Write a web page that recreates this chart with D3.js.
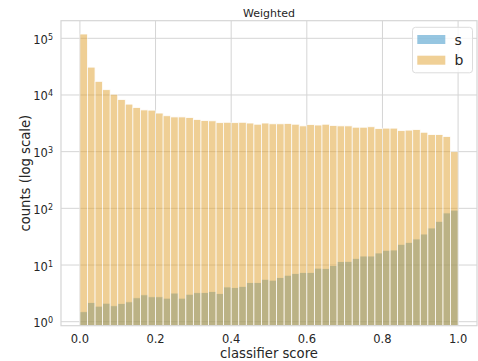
<!DOCTYPE html>
<html>
<head>
<meta charset="utf-8">
<script src="https://cdn.jsdelivr.net/npm/d3@7"></script>
<style>
  body { margin: 0; background: #fff; }
  svg { display: block; font-family: "DejaVu Sans", sans-serif; }
</style>
</head>
<body>
<svg id="chart" width="478" height="361"></svg>
<script>
// bin edges: 50 bins of width 0.02 over [0, 1]
const binWidth = 0.02;
const binStarts = d3.range(50).map(i => +(i * binWidth).toFixed(2));

// signal counts (weighted)
const sCounts = [1.5, 2.18, 1.88, 2.12, 1.91, 2.1, 2.24, 2.64, 2.98, 2.75,
  2.75, 2.6, 3.2, 2.6, 3.05, 3.25, 3.27, 3.4, 3.14, 4.1,
  4.0, 4.2, 4.9, 4.9, 5.6, 5.4, 6.0, 6.6, 7.1, 7.4,
  7.4, 8.8, 8.7, 9.8, 11.5, 11.6, 13.1, 14.4, 14.4, 16.3,
  18.2, 18.4, 23.2, 25.1, 28.8, 35.2, 45, 59, 83, 93];

// background counts (weighted)
const bCounts = [119000, 31000, 17400, 12400, 10300, 8300, 6900, 6000, 5450, 5400,
  4800, 4300, 4100, 4100, 4000, 3700, 3550, 3500, 3250, 3300,
  3250, 3300, 3200, 3050, 3200, 3100, 3100, 3150, 3050, 2850,
  3000, 2950, 3050, 2900, 2850, 2850, 2700, 2700, 2750, 2550,
  2600, 2600, 2350, 2400, 2450, 2200, 2000, 2000, 1850, 1000];

const seriesNames = ["s", "b"];
const seriesColors = ["rgb(45,141,195)", "rgb(225,161,45)"];
const xTicks = [0, 0.2, 0.4, 0.6, 0.8, 1.0];
const yTickExps = [0, 1, 2, 3, 4, 5];

const svg = d3.select("#chart");
const plot = { left: 61, right: 477, top: 20.7, bottom: 325.7 };
const textColor = "#262626";
const gridColor = "#d5d5d5";

const x = d3.scaleLinear().domain([-0.05, 1.05]).range([plot.left, plot.right]);
const y = d3.scaleLog().domain([Math.pow(10, -0.0706), Math.pow(10, 5.3105)]).range([plot.bottom, plot.top]);

// grid
const grid = svg.append("g").attr("class", "grid");
grid.selectAll("line.vgrid").data(xTicks).enter().append("line")
    .attr("class", "vgrid")
    .attr("x1", d => x(d)).attr("x2", d => x(d))
    .attr("y1", plot.top).attr("y2", plot.bottom)
    .attr("stroke", gridColor).attr("stroke-width", 1);
grid.selectAll("line.hgrid").data(yTickExps).enter().append("line")
    .attr("class", "hgrid")
    .attr("x1", plot.left).attr("x2", plot.right)
    .attr("y1", d => y(Math.pow(10, d))).attr("y2", d => y(Math.pow(10, d)))
    .attr("stroke", gridColor).attr("stroke-width", 1);

// bars: s drawn first, b over it
const barsG = svg.append("g").attr("class", "bars");
[sCounts, bCounts].forEach((counts, si) => {
    barsG.append("g")
        .attr("class", "series-" + seriesNames[si])
        .selectAll("rect").data(counts).enter().append("rect")
            .attr("x", (d, i) => x(binStarts[i]))
            .attr("width", (d, i) => x(binStarts[i] + binWidth) - x(binStarts[i]))
            .attr("y", d => y(d))
            .attr("height", d => plot.bottom - y(d))
            .attr("fill", seriesColors[si])
            .attr("stroke", "#fff")
            .attr("stroke-width", 0.8)
            .attr("opacity", 0.5);
});

// frame
svg.append("rect")
    .attr("x", plot.left).attr("y", plot.top)
    .attr("width", plot.right - plot.left).attr("height", plot.bottom - plot.top)
    .attr("fill", "none").attr("stroke", gridColor).attr("stroke-width", 1.2);

// x tick labels
svg.append("g").selectAll("text").data(xTicks).enter().append("text")
    .attr("x", d => x(d)).attr("y", 342.5)
    .attr("text-anchor", "middle")
    .attr("font-size", 11.5).attr("fill", textColor)
    .text(d => d3.format(".1f")(d));

// y tick labels, 10^n
const yLab = svg.append("g").selectAll("text").data(yTickExps).enter().append("text")
    .attr("x", 53).attr("y", d => y(Math.pow(10, d)) + 5.5)
    .attr("text-anchor", "end")
    .attr("font-size", 11.5).attr("fill", textColor);
yLab.append("tspan").text("10");
yLab.append("tspan").attr("dy", -4).attr("font-size", 8).text(d => d);

// axis labels and title
svg.append("text")
    .attr("x", (plot.left + plot.right) / 2).attr("y", 357.5)
    .attr("text-anchor", "middle").attr("font-size", 13.2).attr("fill", textColor)
    .text("classifier score");
svg.append("text")
    .attr("transform", "translate(30," + ((plot.top + plot.bottom) / 2) + ") rotate(-90)")
    .attr("text-anchor", "middle").attr("font-size", 13.2).attr("fill", textColor)
    .text("counts (log scale)");
svg.append("text")
    .attr("x", (plot.left + plot.right) / 2).attr("y", 17)
    .attr("text-anchor", "middle").attr("font-size", 11).attr("fill", textColor)
    .text("Weighted");

// legend
const legend = svg.append("g").attr("class", "legend");
legend.append("rect")
    .attr("x", 412.5).attr("y", 27.3).attr("width", 60).attr("height", 45.5)
    .attr("rx", 3)
    .attr("fill", "#fff").attr("fill-opacity", 0.8)
    .attr("stroke", "#dcdcdc").attr("stroke-width", 1);
const item = legend.selectAll("g.item").data(seriesNames).enter().append("g")
    .attr("class", "item")
    .attr("transform", (d, i) => "translate(0," + (i * 20.7) + ")");
item.append("rect")
    .attr("x", 417.3).attr("y", 35).attr("width", 28).attr("height", 9)
    .attr("fill", (d, i) => seriesColors[i]).attr("opacity", 0.5);
item.append("text")
    .attr("x", 454.5).attr("y", 44.5)
    .attr("font-size", 14).attr("fill", textColor)
    .text(d => d);
</script>
</body>
</html>
